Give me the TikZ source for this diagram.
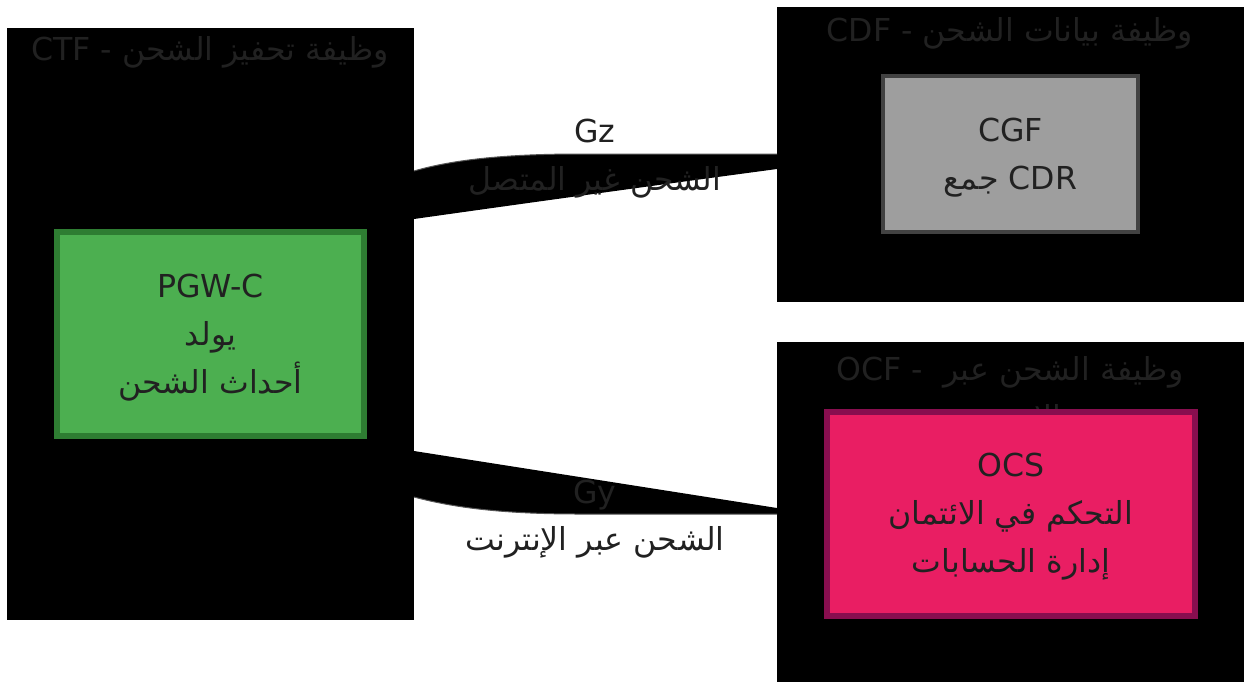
\documentclass[tikz,border=0pt]{standalone}
\usepackage{fontspec}
\setmainfont{DejaVu Sans}
\newfontfamily\arabicfont[Script=Arabic]{DejaVu Sans}
\TeXXeTstate=1
\definecolor{textc}{HTML}{212121}
\definecolor{pgwfill}{HTML}{4CAF50}
\definecolor{pgwdraw}{HTML}{2E7D32}
\definecolor{cgffill}{HTML}{9E9E9E}
\definecolor{cgfdraw}{HTML}{424242}
\definecolor{ocsfill}{HTML}{E91E63}
\definecolor{ocsdraw}{HTML}{880E4F}
\definecolor{edgec}{HTML}{555555}
\newcommand{\ar}[1]{{\arabicfont\beginR #1\endR}}
\begin{document}
\begin{tikzpicture}[x=0.5pt,y=-0.5pt,
  clusterbox/.style={fill=black,draw=none},
  edgeshape/.style={fill=black,draw=none},
  edgeline/.style={draw=edgec,line width=0.5pt},
  txt/.style={text=textc,font=\fontsize{15.8}{24}\selectfont,anchor=base,inner sep=0pt},
  pgwbox/.style={fill=pgwfill,draw=pgwdraw,line width=3pt},
  cgfbox/.style={fill=cgffill,draw=cgfdraw,line width=2.2pt},
  ocsbox/.style={fill=ocsfill,draw=ocsdraw,line width=3pt}]
\useasboundingbox (0,0) rectangle (1244,682);
% clusters
\fill[clusterbox] (7,28) rectangle (414,620);
\fill[clusterbox] (777,7) rectangle (1244,302);
\fill[clusterbox] (777,342) rectangle (1244,682);
\coordinate (ctfA) at (414,171);
\coordinate (ctfB) at (414,219);
\coordinate (cdfA) at (777,154);
\coordinate (cdfB) at (777,169);
\coordinate (ctfC) at (414,451);
\coordinate (ctfD) at (414,497);
\coordinate (ocfA) at (777,508);
\coordinate (ocfB) at (777,514);
% connector Gz
\fill[edgeshape] (ctfA) .. controls (455,159) and (510,154) .. (580,154) -- (cdfA) -- (cdfB)
  .. controls (650,186) and (520,204) .. (ctfB) -- cycle;
\draw[edgeline] (ctfA) .. controls (455,159) and (510,154) .. (580,154) -- (cdfA);
% connector Gy
\fill[edgeshape] (ctfC) -- (ocfA) -- (ocfB) -- (580,514)
  .. controls (505,514) and (455,508) .. (ctfD) -- cycle;
\draw[edgeline] (ocfB) -- (580,514) .. controls (505,514) and (455,508) .. (ctfD);
% cluster titles
\node[txt] (ctft) at (210,60) {CTF - \ar{وظيفة تحفيز الشحن}};
\node[txt] (cdft) at (1010,41) {CDF - \ar{وظيفة بيانات الشحن}};
\node[txt] (ocft) at (1010,380) {OCF -\ \ \ar{وظيفة الشحن عبر}};
\node[txt] (ocft2) at (1010,428) {\ar{الإنترنت}};
% edge labels
\node[txt] (gz) at (595,142) {Gz};
\node[txt] (gzb) at (595,190) {\ar{الشحن غير المتصل}};
\node[txt] (gy) at (595,503) {Gy};
\node[txt] (gyb) at (595,550) {\ar{الشحن عبر الإنترنت}};
% PGW-C
\draw[pgwbox] (57,232) rectangle (364,436);
\node[txt] (pgw1) at (210.5,297) {PGW-C};
\node[txt] (pgw2) at (210.5,345) {\ar{يولد}};
\node[txt] (pgw3) at (210.5,393) {\ar{أحداث الشحن}};
% CGF
\draw[cgfbox] (883,76) rectangle (1138,232);
\node[txt] (cgf1) at (1010.5,141) {CGF};
\node[txt] (cgf2) at (1010.5,189) {\ar{جمع} CDR};
% OCS
\draw[ocsbox] (827,412) rectangle (1195,616);
\node[txt] (ocs1) at (1011,476) {OCS};
\node[txt] (ocs2) at (1011,524) {\ar{التحكم في الائتمان}};
\node[txt] (ocs3) at (1011,572) {\ar{إدارة الحسابات}};
\end{tikzpicture}
\end{document}
